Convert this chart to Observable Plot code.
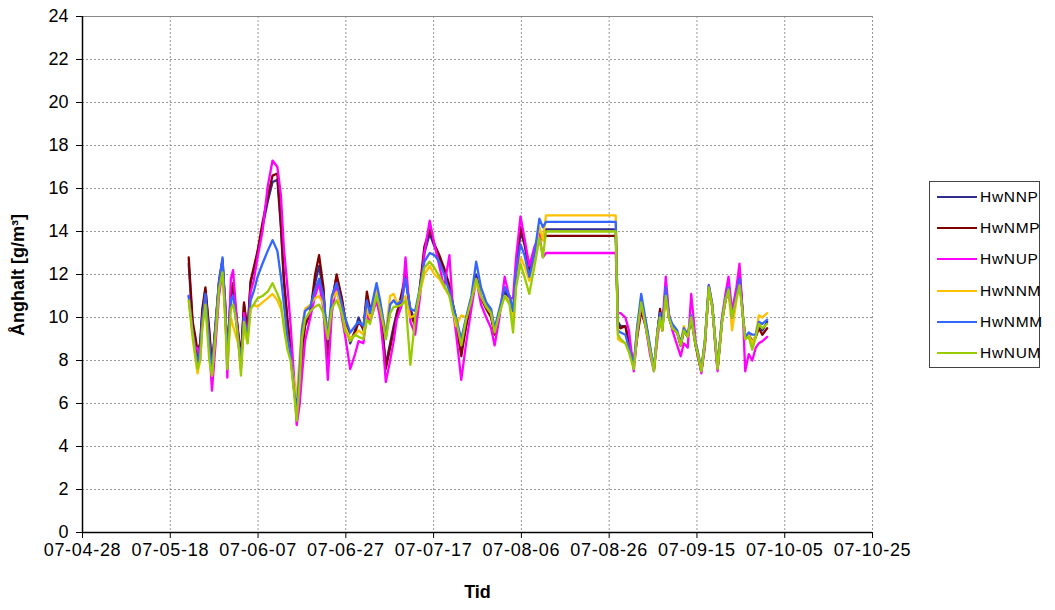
<!DOCTYPE html>
<html>
<head>
<meta charset="utf-8">
<script src="https://cdn.jsdelivr.net/npm/d3@7"></script>
<script src="https://cdn.jsdelivr.net/npm/@observablehq/plot@0.6"></script>
<style>
  html, body { margin: 0; padding: 0; background: #fff; }
  #wrap { position: relative; width: 1055px; height: 610px; font-family: "Liberation Sans", Arial, sans-serif; }
  #chart { position: absolute; left: 0; top: 0; }
  #chart g[aria-label="x-axis tick label"] text { letter-spacing: 0.7px; }
  .xlabel { position: absolute; left: 0; width: 955px; top: 582px; text-align: center; font-weight: bold; font-size: 18px; }
  .ylabel { position: absolute; left: 18px; top: 275px; transform: translate(-50%, -50%) rotate(-90deg); white-space: nowrap; font-weight: bold; font-size: 18px; }
  #legend { position: absolute; left: 929px; top: 181px; width: 111px; height: 187px; border: 1px solid #444; box-sizing: border-box; }
  .item { position: absolute; left: 7px; height: 20px; display: flex; align-items: center; font-size: 15.5px; letter-spacing: 0.7px; }
  .item span.sw { display: inline-block; width: 40px; height: 2px; margin-right: 3px; }
</style>
</head>
<body>
<div id="wrap">
  <div id="chart"></div>
  <div class="ylabel">Ånghalt [g/m³]</div>
  <div class="xlabel">Tid</div>
  <div id="legend"></div>
</div>
<script>
// ---- data ----
const startDate = "2007-04-28";
const seriesNames = ["HwNNP", "HwNMP", "HwNUP", "HwNNM", "HwNMM", "HwNUM"];
const seriesColors = ["#2E2E8F", "#800000", "#FF00FF", "#FFC000", "#3366FF", "#99CC00"];
const yTicks = [0, 2, 4, 6, 8, 10, 12, 14, 16, 18, 20, 22, 24];
const xTickDates = ["2007-04-28", "2007-05-18", "2007-06-07", "2007-06-27", "2007-07-17", "2007-08-06", "2007-08-26", "2007-09-15", "2007-10-05", "2007-10-25"];

// days since startDate
const dayOffsets = [24.2,25.1,25.8,26.2,26.8,27.3,28.0,28.9,29.5,30.4,
 31.1,31.9,32.5,33.0,33.8,34.3,34.9,35.7,36.1,36.8,
 37.6,38.3,39.0,39.9,41.0,42.2,43.3,44.4,45.2,45.9,
 46.7,47.4,48.2,48.8,49.5,50.0,50.7,51.9,53.0,53.9,
 54.9,55.9,56.8,57.9,59.1,59.8,61.0,62.1,62.9,64.0,
 64.8,65.5,67.0,67.8,68.6,69.1,70.1,70.9,71.6,72.8,
 73.6,74.7,75.8,76.8,77.9,79.1,80.2,81.3,82.4,83.6,
 84.4,85.1,86.3,87.4,88.6,89.7,90.8,92.0,93.1,93.9,
 95.0,96.2,97.3,98.1,98.8,99.8,100.7,101.8,103.0,104.1,
 104.9,105.6,121.5,122.0,122.6,123.7,124.5,125.6,126.4,127.3,
 128.3,129.3,130.2,131.0,131.6,132.1,132.9,133.6,134.4,135.5,
 136.3,137.0,137.9,138.7,139.7,140.2,141.0,141.8,142.7,143.5,
 144.2,144.7,145.7,146.5,147.2,148.0,149.0,149.7,150.5,151.0,
 151.8,152.6,153.4,154.1,154.9,156.0];

const hwNNP = [12.5,9.6,8.8,8.2,8.6,10.2,11.3,9.2,7.6,9.8,
 11.6,12.6,10.5,8.2,11.0,11.4,10.3,8.8,8.0,10.6,
 9.2,11.6,12.2,13.0,14.2,15.4,16.3,16.4,14.2,11.6,
 9.8,8.5,6.8,6.0,6.6,8.6,9.8,10.3,11.6,12.4,
 11.2,8.0,10.8,11.9,10.8,9.9,8.8,9.4,10.0,9.4,
 10.9,10.2,11.2,10.4,8.9,7.8,8.8,9.6,10.2,11.0,
 11.8,10.4,9.8,11.2,13.0,13.9,13.3,12.8,12.2,11.4,
 10.6,10.0,8.5,9.6,10.8,12.0,11.0,10.6,10.2,9.3,
 10.2,11.2,10.9,10.0,12.0,14.0,13.4,12.2,13.0,14.0,
 13.6,14.1,14.1,9.8,9.6,9.6,8.8,7.8,9.4,10.8,
 9.8,8.6,7.6,9.3,10.3,9.4,11.4,10.0,9.5,9.3,
 8.7,9.4,9.1,10.0,8.7,8.3,7.5,8.8,11.4,10.5,
 8.8,7.6,9.8,10.8,11.3,10.0,11.0,12.0,10.0,9.0,
 9.2,8.9,9.1,9.7,9.4,9.8];

const hwNMP = [12.8,9.8,9.0,8.4,8.8,10.4,11.4,9.4,7.7,9.9,
 11.7,12.7,10.6,8.3,11.1,11.6,10.4,8.9,8.1,10.7,
 9.3,11.7,12.3,13.1,14.4,15.6,16.6,16.7,14.4,11.8,
 9.9,8.6,6.9,6.0,6.5,8.2,9.6,10.2,12.0,12.9,
 11.4,7.7,10.6,12.0,10.9,10.0,8.9,9.3,9.8,9.5,
 11.2,10.4,11.0,10.3,8.8,7.6,8.6,9.4,10.1,11.2,
 12.0,10.2,9.6,11.3,13.3,14.1,13.4,12.9,12.3,11.5,
 10.6,9.8,8.2,9.6,10.7,11.8,10.9,10.4,10.0,9.2,
 10.2,11.4,11.0,10.2,12.2,14.2,13.5,12.3,13.1,14.0,
 13.6,13.8,13.8,9.6,9.5,9.6,8.8,7.8,9.1,10.3,
 9.6,8.5,7.6,9.3,10.4,9.4,11.3,10.0,9.5,9.3,
 8.7,9.4,9.1,10.0,8.7,8.2,7.5,8.8,11.3,10.5,
 8.8,7.6,9.8,10.8,11.3,10.0,11.0,12.1,10.0,9.0,
 9.2,8.8,9.1,9.5,9.2,9.5];

const hwNUP = [11.0,9.3,8.5,8.6,8.0,9.8,10.9,8.6,6.6,9.0,
 11.0,12.2,10.8,7.2,11.8,12.2,10.6,8.4,7.6,10.2,
 9.0,11.2,11.7,12.8,14.0,16.1,17.3,17.0,15.7,13.2,
 11.4,9.7,7.2,5.0,6.0,7.3,8.9,10.0,11.0,11.6,
 10.4,7.1,10.2,11.6,10.0,9.2,7.6,8.3,8.9,8.8,
 10.2,9.8,10.8,10.0,8.4,7.0,8.0,8.9,9.9,10.6,
 12.8,9.8,9.2,10.8,13.0,14.5,13.4,12.4,11.4,12.9,
 10.4,9.3,7.1,8.8,10.4,11.8,10.6,10.0,9.5,8.7,
 10.0,11.9,10.9,10.9,12.8,14.7,13.7,12.4,13.3,13.8,
 12.8,13.0,13.0,10.2,10.2,10.0,9.4,7.5,9.2,10.6,
 9.6,8.3,7.5,9.0,10.0,9.6,11.9,10.2,9.4,8.7,
 8.2,8.8,8.6,11.1,8.9,8.3,7.4,8.6,11.5,10.6,
 8.6,7.5,10.0,11.1,11.9,10.3,11.4,12.5,10.0,7.5,
 8.3,8.0,8.6,8.8,8.9,9.1];

const hwNNM = [10.8,9.0,8.0,7.4,8.0,9.6,10.8,8.4,7.3,9.6,
 11.5,12.4,10.0,8.0,10.0,9.6,9.2,8.6,7.6,9.6,
 8.8,10.4,10.6,10.5,10.7,10.9,11.1,10.8,10.4,9.8,
 9.0,8.2,7.0,6.3,8.2,9.6,10.4,10.6,10.9,11.0,
 10.6,9.4,10.8,11.2,10.3,9.6,9.0,9.2,9.4,9.2,
 10.4,10.0,11.3,10.6,9.8,9.3,11.0,11.1,10.7,10.8,
 11.0,10.0,10.1,11.1,12.0,12.4,12.0,11.8,11.4,11.0,
 10.4,9.6,10.1,10.0,10.9,11.6,11.0,10.5,10.2,9.4,
 10.2,11.0,10.8,9.8,11.6,12.8,12.4,11.7,12.8,14.2,
 13.6,14.75,14.75,9.0,8.9,8.8,8.4,7.7,9.6,10.8,
 9.8,8.6,7.6,9.3,10.0,9.4,11.1,10.0,9.6,9.3,
 8.8,9.6,9.2,10.1,8.8,8.4,7.6,8.9,11.3,10.5,
 8.9,7.7,9.8,10.9,11.2,9.4,10.8,11.6,10.0,9.0,
 9.2,8.8,9.2,10.1,10.0,10.2];

const hwNMM = [11.0,9.3,8.3,7.9,8.4,9.9,11.1,8.8,7.5,9.8,
 11.6,12.8,10.4,8.2,10.8,11.0,10.0,8.6,7.8,10.0,
 9.0,10.8,11.2,11.9,12.5,13.1,13.6,13.1,11.9,10.6,
 9.1,8.3,6.6,5.6,7.6,9.4,10.3,10.5,11.3,11.8,
 11.0,9.0,11.0,11.6,10.6,10.0,9.3,9.6,9.8,9.6,
 10.8,10.2,11.6,10.8,9.8,9.0,10.6,10.8,10.6,10.8,
 11.8,10.4,10.3,11.3,12.6,13.0,12.9,12.6,12.0,11.2,
 10.6,10.0,9.0,10.0,11.0,12.6,11.4,10.7,10.4,9.5,
 10.4,11.4,11.0,10.3,12.1,13.4,12.9,11.9,13.0,14.6,
 14.2,14.45,14.45,9.4,9.3,9.2,8.6,7.8,9.6,11.1,
 9.9,8.7,7.6,9.4,10.2,9.5,11.4,10.1,9.7,9.4,
 8.8,9.5,9.2,10.1,8.8,8.4,7.6,8.9,11.5,10.6,
 8.9,7.7,9.9,10.9,11.4,10.0,11.0,11.8,10.0,9.1,
 9.3,9.2,9.2,9.8,9.7,9.9];

const hwNUM = [10.8,9.2,8.1,7.6,8.0,9.5,10.6,8.0,7.3,9.4,
 11.3,12.1,10.0,7.6,10.4,10.6,10.0,8.4,7.3,9.8,
 8.8,10.4,10.6,10.9,11.0,11.2,11.6,11.1,10.7,9.5,
 8.5,8.0,6.5,5.2,7.0,9.0,9.9,10.3,10.5,10.6,
 10.2,9.0,10.4,10.8,10.2,9.4,8.9,9.2,9.1,9.0,
 9.9,9.7,11.0,10.4,9.6,9.0,10.2,10.5,10.5,10.6,
 10.8,7.8,10.0,11.2,12.3,12.6,12.3,11.9,11.5,11.0,
 10.2,9.9,8.7,9.9,10.8,11.8,11.0,10.5,10.2,9.3,
 10.2,11.0,10.6,9.3,11.4,12.5,11.9,11.1,12.4,13.7,
 12.8,14.0,14.0,9.2,9.0,8.8,8.4,7.6,9.3,10.7,
 9.6,8.5,7.5,9.3,10.0,9.4,11.0,10.0,9.5,9.3,
 8.7,9.4,9.1,10.0,8.7,8.3,7.5,8.8,11.4,10.5,
 8.8,7.6,9.8,10.8,11.3,10.0,10.9,11.5,10.0,9.0,
 9.1,8.5,9.1,9.7,9.5,9.7];

// ---- build table ----
const seriesValues = [hwNNP, hwNMP, hwNUP, hwNNM, hwNMM, hwNUM];
const t0 = new Date(startDate + "T00:00:00Z").getTime();
const toDate = d => new Date(t0 + d * 86400000);
const rows = [];
seriesNames.forEach((name, i) => {
  seriesValues[i].forEach((v, j) => rows.push({date: toDate(dayOffsets[j]), value: v, series: name}));
});
const xTicks = xTickDates.map(s => new Date(s + "T00:00:00Z"));
const fmt = d3.utcFormat("%y-%m-%d");

const chart = Plot.plot({
  width: 1055,
  height: 610,
  marginLeft: 82,
  marginRight: 183,
  marginTop: 16,
  marginBottom: 78,
  style: {fontFamily: "Liberation Sans, Arial, sans-serif", background: "#fff", color: "#000"},
  x: {type: "utc", domain: [xTicks[0], xTicks[xTicks.length - 1]], label: null},
  y: {domain: [0, 24], label: null},
  color: {domain: seriesNames, range: seriesColors},
  marks: [
    Plot.gridX(xTicks, {stroke: "#999", strokeOpacity: 1, strokeDasharray: "2,2", strokeWidth: 1}),
    Plot.gridY(yTicks, {stroke: "#999", strokeOpacity: 1, strokeDasharray: "2,2", strokeWidth: 1}),
    Plot.ruleY([24], {stroke: "#888", strokeWidth: 1}),
    Plot.line(rows, {x: "date", y: "value", z: "series", stroke: "series", strokeWidth: 2.3, curve: "linear"}),
    Plot.ruleX([xTicks[0]], {stroke: "#000", strokeWidth: 1.5}),
    Plot.ruleY([0], {stroke: "#000", strokeWidth: 1.5}),
    Plot.axisX(xTicks, {tickFormat: fmt, tickSize: 6, tickPadding: 5, fontSize: 18, label: null}),
    Plot.axisY(yTicks, {tickSize: 6, tickPadding: 8, fontSize: 18, label: null})
  ]
});
document.getElementById("chart").appendChild(chart);

// legend
const legend = document.getElementById("legend");
seriesNames.forEach((name, i) => {
  const item = document.createElement("div");
  item.className = "item";
  item.style.top = (5 + i * 31.2) + "px";
  const sw = document.createElement("span");
  sw.className = "sw";
  sw.style.background = seriesColors[i];
  item.appendChild(sw);
  item.appendChild(document.createTextNode(name));
  legend.appendChild(item);
});
</script>
</body>
</html>
